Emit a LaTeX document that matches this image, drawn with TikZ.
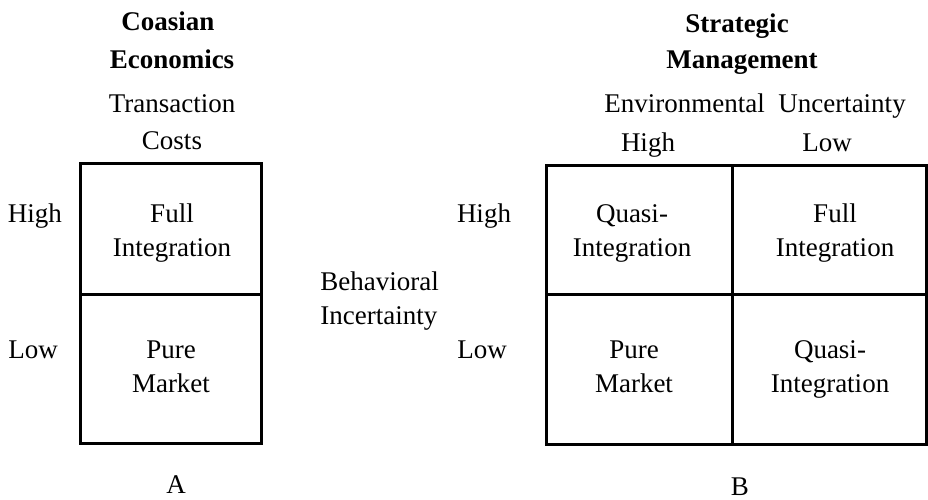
\documentclass[tikz,border=0pt]{standalone}
\usepackage{fontspec}
\setmainfont{Liberation Serif}
\begin{document}
\begin{tikzpicture}[x=0.5pt,y=-0.5pt,
  txt/.style={inner sep=0pt,anchor=base,font=\fontsize{13.5}{17}\selectfont},
  ttl/.style={txt,font=\fontsize{13.5}{17}\selectfont\bfseries},
  cell/.style={txt,align=center},
  grid/.style={line width=1.5pt}]
\useasboundingbox (0,0) rectangle (928,499);
% panel A
\node[ttl] (coasian) at (168,30) {Coasian};
\node[ttl] (economics) at (172,68) {Economics};
\node[txt] (transaction) at (172,112) {Transaction};
\node[txt] (costs) at (172,149) {Costs};
\draw[grid] (80,163) rectangle (261,443);
\draw[grid] (80,294) -- (261,294);
\node[txt] (highA) at (35,222) {High};
\node[txt] (lowA) at (33,358) {Low};
\node[cell] (fullA) at (172,256) {Full\\Integration};
\node[cell] (pureA) at (171,392) {Pure\\Market};
\node[txt] (labA) at (176,493) {A};
% middle
\node[txt,anchor=base west,align=left] (behav) at (320,324) {Behavioral\\Incertainty};
% panel B
\node[ttl] (strategic) at (737,32) {Strategic};
\node[ttl] (management) at (742,68) {Management};
\node[txt] (envunc) at (755,112) {Environmental\hspace{0.5em}Uncertainty};
\node[txt] (colHigh) at (648,151) {High};
\node[txt] (colLow) at (827,151) {Low};
\draw[grid] (546,165) rectangle (926,444);
\draw[grid] (546,294) -- (926,294);
\draw[grid] (732,165) -- (732,444);
\node[txt] (highB) at (484,222) {High};
\node[txt] (lowB) at (482,358) {Low};
\node[cell] (quasiHH) at (632,256) {Quasi-\\Integration};
\node[cell] (fullB) at (835,256) {Full\\Integration};
\node[cell] (pureB) at (634,392) {Pure\\Market};
\node[cell] (quasiLL) at (830,392) {Quasi-\\Integration};
\node[txt] (labB) at (740,495) {B};
\end{tikzpicture}
\end{document}
